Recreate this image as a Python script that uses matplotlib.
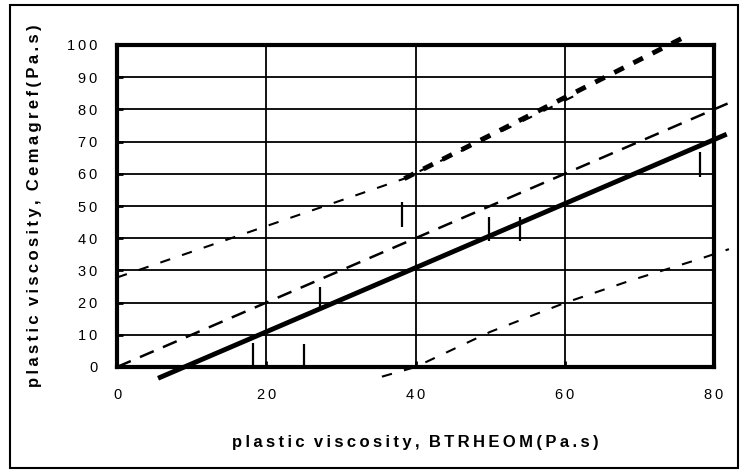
import matplotlib
matplotlib.use("Agg")
import matplotlib.pyplot as plt
from matplotlib.patches import Rectangle

# ---- data ----
fit_x = [5.5, 81.7]
fit_y = [-3.5, 72.3]

equal_x = [0, 82]
equal_y = [0, 82]

upper_thin_x = [0, 38.5, 62]
upper_thin_y = [27.8, 58.5, 85]
upper_thick_x = [38.5, 76.5]
upper_thick_y = [58.5, 103]

lower_x = [35.5, 40, 50, 60, 69, 78, 82]
lower_y = [-3, 0, 10.9, 19.9, 27, 33.5, 36.6]

bar_x = [18.2, 25.0, 27.2, 38.2, 49.9, 54.0, 78.1]
bar_low = [0, 0, 17.7, 43.6, 39.2, 39.2, 58.9]
bar_high = [7.5, 7.1, 25.0, 51.3, 46.7, 46.7, 66.7]

x_ticks = [0, 20, 40, 60, 80]
y_ticks = [0, 10, 20, 30, 40, 50, 60, 70, 80, 90, 100]

x_label = "plastic viscosity, BTRHEOM(Pa.s)"
y_label = "plastic viscosity, Cemagref(Pa.s)"

SP = "\u2009"
def spaced(s):
    return SP.join(list(s))

plt.rcParams['font.family'] = ['Liberation Sans', 'DejaVu Sans']

fig = plt.figure(figsize=(7.46, 4.74), dpi=100)
ax = fig.add_axes([117/746, 1-367/474, (714-117)/746, (367-45)/474])

ax.set_xlim(0, 80)
ax.set_ylim(0, 100)

ax.set_xticks(x_ticks)
ax.set_xticklabels([spaced(str(t)) for t in x_ticks], fontsize=10.5)
ax.set_yticks(y_ticks)
ax.set_yticklabels([spaced(str(t)) for t in y_ticks], fontsize=10.5)
ax.tick_params(axis='both', direction='in', length=4, width=2, color='black')
ax.tick_params(axis='y', pad=14)
ax.tick_params(axis='x', pad=15)

ax.grid(True, color='black', linewidth=1.3)
ax.set_axisbelow(True)
for s in ax.spines.values():
    s.set_linewidth(3)
    s.set_zorder(5)

ax.plot(upper_thin_x, upper_thin_y, color='black', lw=1.5, dashes=(5, 6), clip_on=False, zorder=3)
ax.plot(upper_thick_x, upper_thick_y, color='black', lw=3.5, dashes=(2.2, 2.2), clip_on=False, zorder=3)
ax.plot(equal_x, equal_y, color='black', lw=1.8, dashes=(6, 4), clip_on=False, zorder=3)
ax.plot(lower_x, lower_y, color='black', lw=1.5, dashes=(5, 6), clip_on=False, zorder=3)
ax.plot(fit_x, fit_y, color='black', lw=3.5, solid_capstyle='butt', clip_on=False, zorder=4)
ax.vlines(bar_x, bar_low, bar_high, color='black', lw=1.6, zorder=4)

ax.set_xlabel(spaced(x_label).replace(SP + " " + SP, "  "), fontsize=12, fontweight='bold', labelpad=24)
ax.set_ylabel(spaced(y_label).replace(SP + " " + SP, "  "), fontsize=12, fontweight='bold', labelpad=18)

fig.patches.append(Rectangle((10/746, 1-468/474), 728/746, 463/474, transform=fig.transFigure,
                             fill=False, edgecolor='black', linewidth=1.5))

fig.savefig("out.png", dpi=100)
